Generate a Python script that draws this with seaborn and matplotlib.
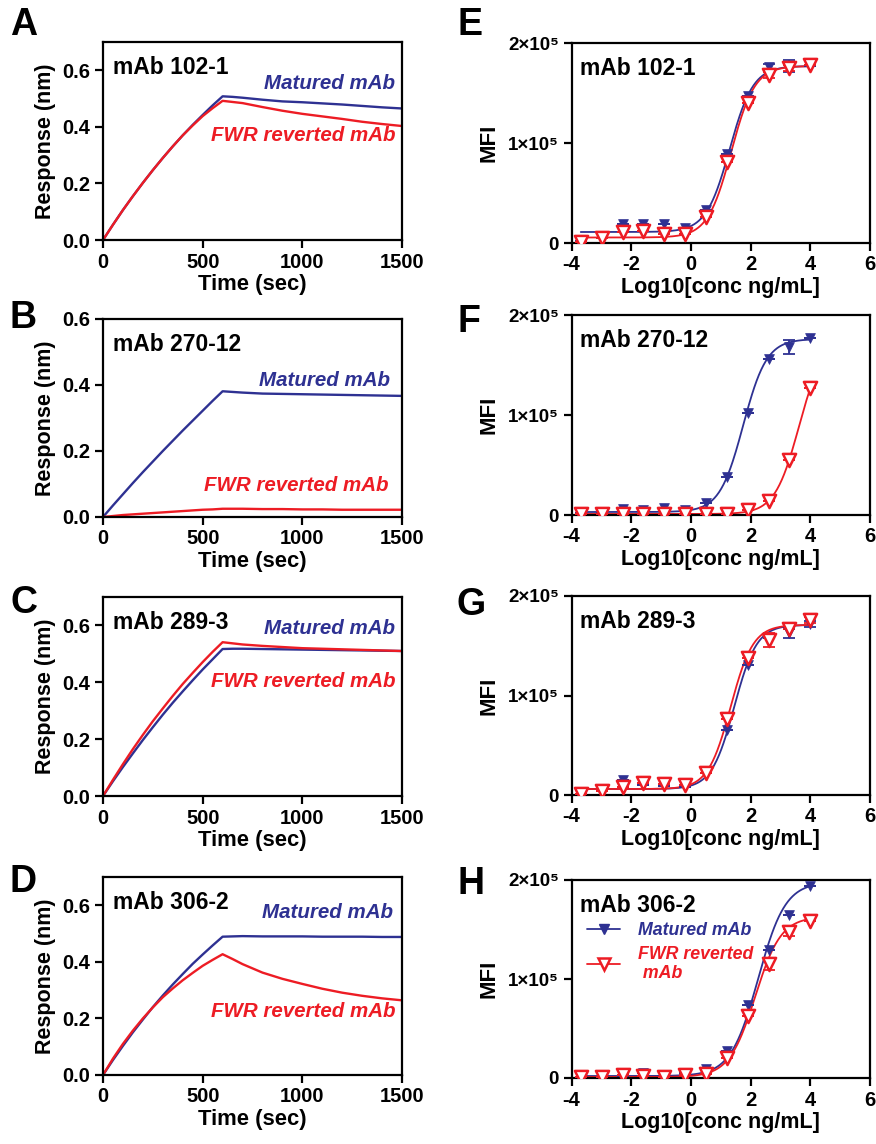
import numpy as np
import pandas as pd
import matplotlib
matplotlib.use("Agg")
import matplotlib.pyplot as plt
import seaborn as sns
from matplotlib.lines import Line2D

# ---------------- data ----------------
time_s = [0, 50, 100, 150, 200, 250, 300, 350, 400, 450, 500, 550, 600,
          650, 700, 800, 900, 1000, 1100, 1200, 1300, 1400, 1500]

a_matured = [0, 0.054, 0.106, 0.155, 0.202, 0.247, 0.290, 0.331, 0.370, 0.407, 0.442, 0.476, 0.508,
             0.506, 0.503, 0.496, 0.490, 0.487, 0.483, 0.479, 0.474, 0.469, 0.465]
a_reverted = [0, 0.054, 0.106, 0.155, 0.202, 0.247, 0.290, 0.331, 0.370, 0.405, 0.438, 0.466, 0.492,
              0.488, 0.484, 0.470, 0.457, 0.446, 0.437, 0.428, 0.418, 0.410, 0.403]
b_matured = [0, 0.035, 0.069, 0.103, 0.136, 0.168, 0.200, 0.231, 0.262, 0.292, 0.322, 0.352, 0.381,
             0.379, 0.377, 0.374, 0.373, 0.372, 0.371, 0.370, 0.369, 0.368, 0.367]
b_reverted = [0, 0.003, 0.006, 0.008, 0.010, 0.012, 0.014, 0.016, 0.018, 0.020, 0.022, 0.023, 0.025,
              0.025, 0.025, 0.024, 0.024, 0.023, 0.023, 0.022, 0.022, 0.022, 0.022]
c_matured = [0, 0.052, 0.102, 0.150, 0.197, 0.242, 0.286, 0.328, 0.368, 0.407, 0.445, 0.481, 0.517,
             0.518, 0.518, 0.517, 0.516, 0.515, 0.514, 0.513, 0.512, 0.511, 0.510]
c_reverted = [0, 0.057, 0.112, 0.165, 0.215, 0.263, 0.308, 0.352, 0.394, 0.433, 0.471, 0.507, 0.541,
              0.537, 0.533, 0.528, 0.524, 0.520, 0.518, 0.516, 0.514, 0.512, 0.510]
d_matured = [0, 0.053, 0.103, 0.151, 0.196, 0.240, 0.281, 0.320, 0.357, 0.393, 0.426, 0.458, 0.489,
             0.490, 0.491, 0.490, 0.490, 0.490, 0.489, 0.489, 0.489, 0.488, 0.488]
d_reverted = [0, 0.058, 0.110, 0.157, 0.200, 0.239, 0.275, 0.306, 0.335, 0.361, 0.386, 0.407, 0.427,
              0.410, 0.392, 0.362, 0.340, 0.322, 0.305, 0.291, 0.280, 0.271, 0.264]

log_conc = [-3.69, -2.99, -2.29, -1.59, -0.89, -0.19, 0.51, 1.20, 1.90, 2.60, 3.30, 4.00]

e_matured = [2000, 5000, 19000, 19000, 18700, 15000, 33000, 89000, 147000, 176000, 177000, 177000]
e_reverted = [700, 5000, 11000, 12000, 9000, 9000, 26000, 81000, 140000, 168000, 175000, 177600]
e_matured_err = [0, 0, 0, 0, 0, 0, 0, 0, 0, 3000, 6000, 0]
e_reverted_err = [0, 0, 0, 0, 0, 0, 0, 0, 0, 3000, 3000, 0]

f_matured = [2000, 2000, 5700, 5000, 6700, 5000, 12000, 38000, 102000, 156000, 168000, 177000]
f_reverted = [1000, 1000, 1000, 1000, 1000, 1000, 1000, 1500, 5000, 14000, 55000, 127000]
f_matured_err = [0, 0, 0, 0, 0, 0, 0, 0, 0, 0, 7000, 0]
f_reverted_err = [0] * 12

g_matured = [1000, 4000, 15000, 10000, 9000, 8000, 22000, 65000, 131000, 158000, 163000, 172000]
g_reverted = [1000, 4000, 8000, 12000, 11000, 10000, 22000, 76000, 138000, 156000, 167000, 176000]
g_matured_err = [0, 0, 0, 0, 0, 0, 0, 0, 0, 0, 5000, 3000]
g_reverted_err = [0, 0, 0, 0, 0, 0, 0, 0, 0, 7000, 0, 3000]

h_matured = [1000, 1000, 2000, 5000, 1000, 5000, 9000, 27000, 74000, 129000, 165000, 194000]
h_reverted = [1000, 1000, 3000, 2500, 1000, 3400, 4500, 20000, 63000, 115000, 147000, 159000]
h_matured_err = [0] * 12
h_reverted_err = [0, 0, 0, 0, 0, 0, 0, 0, 0, 6000, 4000, 0]

# 4-parameter logistic fit parameters: bottom, top, logEC50, hill
fit_e_matured = [11000, 177000, 1.30, 1.10]
fit_e_reverted = [5500, 177000, 1.35, 1.10]
fit_f_matured = [3000, 176000, 1.75, 1.10]
fit_f_reverted = [1000, 176000, 3.62, 1.07]
fit_g_matured = [6000, 171000, 1.45, 1.15]
fit_g_reverted = [6000, 171000, 1.33, 1.15]
fit_h_matured = [2000, 198000, 2.25, 0.95]
fit_h_reverted = [1000, 163000, 2.15, 1.00]

panel_titles = ["mAb 102-1", "mAb 270-12", "mAb 289-3", "mAb 306-2"]
left_letters = ["A", "B", "C", "D"]
right_letters = ["E", "F", "G", "H"]
series_names = ["Matured mAb", "FWR reverted mAb"]

# ---------------- style ----------------
sns.set_style("ticks")
FONT = ["Liberation Sans", "DejaVu Sans"]
plt.rcParams["font.family"] = FONT
plt.rcParams["font.weight"] = "bold"
plt.rcParams["text.color"] = "black"
plt.rcParams["axes.labelcolor"] = "black"
plt.rcParams["axes.unicode_minus"] = False
plt.rcParams["axes.linewidth"] = 1.6
plt.rcParams["xtick.major.width"] = 1.6
plt.rcParams["ytick.major.width"] = 1.6
plt.rcParams["xtick.major.size"] = 6
plt.rcParams["ytick.major.size"] = 6
plt.rcParams["xtick.color"] = "black"
plt.rcParams["ytick.color"] = "black"
plt.rcParams["axes.edgecolor"] = "black"

BLUE = "#2E3192"
RED = "#ED1C24"

W, H = 876, 1144
fig = plt.figure(figsize=(W / 100, H / 100), dpi=100)


def ax_at(x0, top, x1, bottom):
    return fig.add_axes([x0 / W, 1 - bottom / H, (x1 - x0) / W, (bottom - top) / H])


left_rows = [(42, 240), (319, 517), (597, 796), (877, 1075)]
right_rows = [(43, 243), (315, 515), (596, 795), (880, 1078)]
left_letter_y = [25, 318, 603, 882]
right_letter_y = [25, 322, 605, 884]

kin_data = [(a_matured, a_reverted), (b_matured, b_reverted),
            (c_matured, c_reverted), (d_matured, d_reverted)]
kin_ylim = [0.7, 0.6, 0.7, 0.7]
kin_label_pos = [((1465, 0.555), (1465, 0.371)),
                 ((1440, 0.415), (1430, 0.094)),
                 ((1465, 0.589), (1465, 0.404)),
                 ((1455, 0.573), (1465, 0.223))]

for i in range(4):
    top, bottom = left_rows[i]
    ax = ax_at(103, top, 402, bottom)
    mat, rev = kin_data[i]
    df = pd.DataFrame({"Time": time_s * 2,
                       "Response": mat + rev,
                       "Series": [series_names[0]] * len(time_s) + [series_names[1]] * len(time_s)})
    sns.lineplot(data=df, x="Time", y="Response", hue="Series",
                 palette={series_names[0]: BLUE, series_names[1]: RED},
                 linewidth=1.7, legend=False, ax=ax, sort=False)
    ax.set_xlim(0, 1500)
    ax.set_ylim(0, kin_ylim[i])
    ax.set_xticks([0, 500, 1000, 1500])
    yt = np.arange(0, kin_ylim[i] + 0.001, 0.2)
    ax.set_yticks(yt)
    ax.set_yticklabels([f"{v:.1f}" for v in yt])
    ax.tick_params(labelsize=14.5, pad=3)
    for lab in ax.get_xticklabels() + ax.get_yticklabels():
        lab.set_fontweight("bold")
    ax.set_xlabel("Time (sec)", fontsize=15.8, fontweight="bold", labelpad=2)
    ax.set_ylabel("Response (nm)", fontsize=15.5, fontweight="bold", labelpad=5)
    for s in ax.spines.values():
        s.set_linewidth(1.6)
    ax.text(0.035, 0.93, panel_titles[i], transform=ax.transAxes, fontsize=16.5,
            fontweight="bold", va="top", ha="left")
    (mx, my), (rx, ry) = kin_label_pos[i]
    ax.text(mx, my, series_names[0], color=BLUE, fontsize=14.8, fontweight="bold",
            fontstyle="italic", ha="right", va="center")
    ax.text(rx, ry, series_names[1], color=RED, fontsize=14.8, fontweight="bold",
            fontstyle="italic", ha="right", va="center")
    fig.text(10 / W, 1 - left_letter_y[i] / H, left_letters[i], fontsize=27,
             fontweight="bold", ha="left", va="center")

dr_data = [(e_matured, e_reverted, e_matured_err, e_reverted_err, fit_e_matured, fit_e_reverted),
           (f_matured, f_reverted, f_matured_err, f_reverted_err, fit_f_matured, fit_f_reverted),
           (g_matured, g_reverted, g_matured_err, g_reverted_err, fit_g_matured, fit_g_reverted),
           (h_matured, h_reverted, h_matured_err, h_reverted_err, fit_h_matured, fit_h_reverted)]


def four_pl(x, p):
    bottom, top, ec50, hill = p
    return bottom + (top - bottom) / (1 + 10 ** ((ec50 - x) * hill))


for i in range(4):
    top, bottom = right_rows[i]
    ax = ax_at(571.5, top, 870, bottom)
    mat, rev, mat_err, rev_err, pm, pr = dr_data[i]
    xs = np.linspace(min(log_conc), max(log_conc), 300)
    fit_df = pd.DataFrame({"x": np.concatenate([xs, xs]),
                           "y": np.concatenate([four_pl(xs, pm), four_pl(xs, pr)]),
                           "Series": [series_names[0]] * len(xs) + [series_names[1]] * len(xs)})
    sns.lineplot(data=fit_df, x="x", y="y", hue="Series",
                 palette={series_names[0]: BLUE, series_names[1]: RED},
                 linewidth=1.3, legend=False, ax=ax, sort=False)
    ax.errorbar(log_conc, mat, yerr=mat_err, fmt="none", ecolor=BLUE, elinewidth=1.3,
                capsize=4, capthick=1.3, zorder=3)
    ax.errorbar(log_conc, rev, yerr=rev_err, fmt="none", ecolor=RED, elinewidth=1.3,
                capsize=4, capthick=1.3, zorder=3)
    pts = pd.DataFrame({"x": log_conc, "m": mat, "r": rev})
    sns.scatterplot(data=pts, x="x", y="m", marker="v", s=50, color=BLUE,
                    edgecolor=BLUE, linewidth=0.5, ax=ax, zorder=4)
    sns.scatterplot(data=pts, x="x", y="r", marker="v", s=90, facecolor="white",
                    edgecolor=RED, linewidth=1.8, ax=ax, zorder=5)
    ax.set_xlim(-4, 6)
    ax.set_ylim(0, 200000)
    ax.set_xticks([-4, -2, 0, 2, 4, 6])
    ax.set_yticks([0, 100000, 200000])
    ax.set_yticklabels(["0", "1×10⁵", "2×10⁵"])
    ax.tick_params(axis="x", labelsize=14.5, pad=3)
    ax.tick_params(axis="y", labelsize=13.5, pad=3)
    for lab in ax.get_xticklabels() + ax.get_yticklabels():
        lab.set_fontweight("bold")
    ax.set_xlabel("Log10[conc ng/mL]", fontsize=15.5, fontweight="bold", labelpad=2)
    ax.set_ylabel("MFI", fontsize=16, fontweight="bold", labelpad=6)
    for s in ax.spines.values():
        s.set_linewidth(1.6)
    ax.text(0.03, 0.93, panel_titles[i], transform=ax.transAxes, fontsize=16.5,
            fontweight="bold", va="top", ha="left")
    fig.text(457 / W, 1 - right_letter_y[i] / H, right_letters[i], fontsize=27,
             fontweight="bold", ha="left", va="center")
    if i == 3:
        h1 = Line2D([], [], color=BLUE, lw=1.3, marker="v", markersize=7,
                    markerfacecolor=BLUE, markeredgecolor=BLUE)
        h2 = Line2D([], [], color=RED, lw=1.3, marker="v", markersize=9,
                    markerfacecolor="white", markeredgecolor=RED, markeredgewidth=1.8)
        leg = ax.legend([h1, h2], ["Matured mAb", "FWR reverted\n mAb"],
                        loc="upper left", bbox_to_anchor=(0.015, 0.84), frameon=False,
                        handlelength=1.9, handletextpad=1.0, labelspacing=0.35,
                        borderaxespad=0.2,
                        prop={"size": 12.8, "weight": "bold", "style": "italic",
                              "family": FONT})
        for txt, c in zip(leg.get_texts(), [BLUE, RED]):
            txt.set_color(c)

fig.savefig("out.png", dpi=100)
